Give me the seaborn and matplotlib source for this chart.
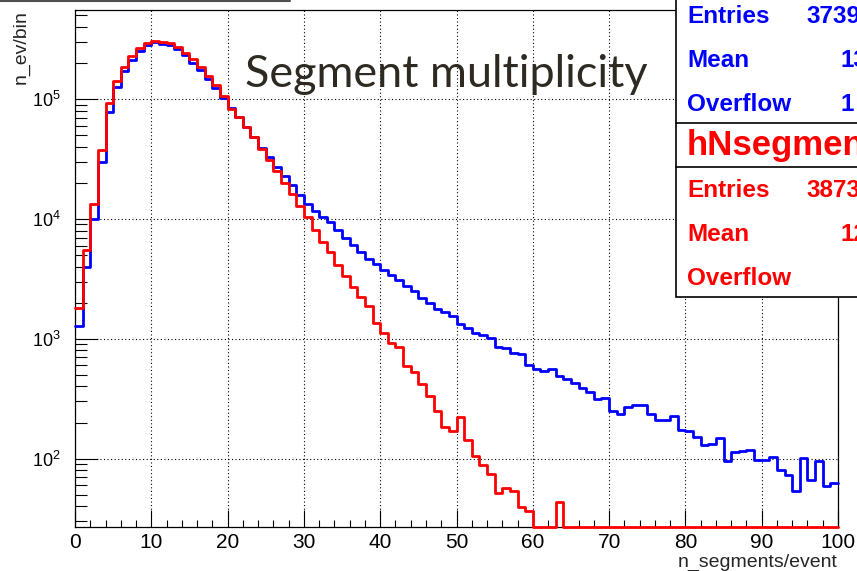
import numpy as np
import pandas as pd
import matplotlib
matplotlib.use("Agg")
import matplotlib.pyplot as plt
import seaborn as sns
from matplotlib.patches import Rectangle
from matplotlib.lines import Line2D
from matplotlib.ticker import MultipleLocator, LogLocator, NullFormatter

sns.set_theme(style="white")
plt.rcParams["font.family"] = ["Liberation Sans", "DejaVu Sans"]
plt.rcParams["mathtext.default"] = "regular"


# DATEN (Binbreite 1)
bin_lo, bin_hi = 0, 100

blue_counts = [
    1270, 3970, 10070, 29900, 78400, 125000, 171000, 214000, 253000, 282000,
    298000, 290000, 281000, 260000, 232000, 201000, 175000, 148000, 124000, 103000,
    84000, 70500, 58700, 48400, 39300, 32600, 26900, 22700, 19100, 15800,
    13400, 11700, 10450, 9440, 8050, 6990, 6030, 5300, 4670, 4240,
    3720, 3390, 3080, 2740, 2500, 2180, 2000, 1790, 1660, 1560,
    1320, 1230, 1120, 1075, 1010, 853, 845, 762, 741, 600,
    555, 540, 560, 485, 463, 425, 390, 360, 312, 322,
    252, 234, 268, 281, 281, 234, 211, 211, 229, 172,
    169, 153, 129, 133, 149, 95, 113, 115, 118, 97.7,
    97.7, 103, 80.5, 73.6, 54.2, 101, 66.5, 96.4, 59.6, 62.8]

red_counts = [
    1820, 5480, 13400, 37500, 92000, 142000, 186000, 229000, 268000, 295000,
    305000, 302000, 292000, 274000, 244000, 217000, 186000, 156000, 130000, 107000,
    82000, 71000, 58700, 48400, 38700, 30900, 25200, 20000, 16100, 12800,
    10300, 8050, 6430, 5350, 4100, 3320, 2700, 2230, 1870, 1345,
    1120, 915, 853, 590, 527, 417, 336, 248, 184, 169,
    222, 142, 106, 88.7, 74.6, 51.4, 56.6, 53.5, 39.3, 36.8,
    0, 0, 0, 43.8, 0, 0, 0, 0, 0, 0,
    0, 0, 0, 0, 0, 0, 0, 0, 0, 0,
    0, 0, 0, 0, 0, 0, 0, 0, 0, 0,
    0, 0, 0, 0, 0, 0, 0, 0, 0, 0]

blue_stats = [("Entries", "3739"), ("Mean", "13"), ("Overflow", "1")]
red_stats = [("Entries", "3873"), ("Mean", "12"), ("Overflow", "")]
red_name = "hNsegments"

title = "Segment multiplicity"
x_label = "n_segments/event"
y_label = "n_ev/bin"

y_lo, y_hi = 26.9, 5.54e5

W, H = 857, 571


def fx(px):
    return px / W


def fy(py):
    return 1 - py / H


# PLOT
fig = plt.figure(figsize=(W / 100, H / 100), dpi=100)
fig.patch.set_facecolor("white")
ax = fig.add_axes([fx(75), fy(527), fx(838) - fx(75), fy(10) - fy(527)])

centers = np.arange(bin_lo, bin_hi) + 0.5
for counts, color in [(blue_counts, "#0000ff"), (red_counts, "#ff0000")]:
    df = pd.DataFrame({"n_seg": centers, "n_ev": np.clip(counts, y_lo, None)})
    sns.histplot(data=df, x="n_seg", weights="n_ev", binwidth=1, binrange=(bin_lo, bin_hi),
                 element="step", fill=False, color=color, linewidth=2,
                 ax=ax, clip_on=False, zorder=3)

ax.set_yscale("log")
ax.set_xlim(0, 100)
ax.set_ylim(y_lo, y_hi)
ax.set_xlabel("")
ax.set_ylabel("")

# Achsen im ROOT-Stil
ax.xaxis.set_major_locator(MultipleLocator(10))
ax.xaxis.set_minor_locator(MultipleLocator(2))
ax.yaxis.set_major_locator(LogLocator(base=10, numticks=10))
ax.yaxis.set_minor_locator(LogLocator(base=10, subs=np.arange(2, 10), numticks=10))
ax.yaxis.set_minor_formatter(NullFormatter())

ax.tick_params(axis="x", which="major", direction="in", length=12, width=0.8,
               labelsize=15, pad=4, bottom=True, top=False, color="black", labelcolor="black")
ax.tick_params(axis="x", which="minor", direction="in", length=5, width=0.8,
               bottom=True, top=False, color="black")
ax.tick_params(axis="y", which="major", direction="in", length=16.5, width=0.8,
               labelsize=13, pad=10, left=True, right=False, color="black", labelcolor="black")
ax.tick_params(axis="y", which="minor", direction="in", length=8.5, width=0.8,
               left=True, right=False, color="black")

for sp in ax.spines.values():
    sp.set_color("black")
    sp.set_linewidth(0.9)

ax.grid(True, which="major", color="black", linestyle=(0, (1, 2.2)), linewidth=0.8)
ax.set_axisbelow(True)

# Achsentitel
fig.text(fx(21), fy(10), y_label, rotation=90, ha="center", va="top", fontsize=14)
fig.text(fx(838), fy(567), x_label, ha="right", va="baseline", fontsize=14)

# Titel (Folientext)
fig.text(fx(245), fy(87), title, family=["Lato", "DejaVu Sans"], fontsize=32.4,
         color="#2e2a22", ha="left", va="baseline")

# Statistik-Box
fig.patches.append(Rectangle((fx(676), fy(297)), fx(900) - fx(676), fy(-10) - fy(297),
                             transform=fig.transFigure, facecolor="white",
                             edgecolor="black", linewidth=1.2, zorder=5))
for py in [123, 167]:
    fig.lines.append(Line2D([fx(676), fx(900)], [fy(py), fy(py)], transform=fig.transFigure,
                            color="black", linewidth=1.2, zorder=6))

stat_size = 17.5
for i, (name, val) in enumerate(blue_stats):
    base = 23 + 44 * i
    fig.text(fx(687), fy(base), name, color="#0000ff", fontsize=stat_size, weight="bold",
             va="baseline", zorder=7)
    fig.text(fx(806 if len(val) > 2 else 840), fy(base), val, color="#0000ff",
             fontsize=stat_size, weight="bold", va="baseline", zorder=7)

fig.text(fx(687), fy(155), red_name, color="#ff0000", fontsize=25, weight="bold",
         va="baseline", zorder=7)

for i, (name, val) in enumerate(red_stats):
    base = 197 + 44 * i
    fig.text(fx(687), fy(base), name, color="#ff0000", fontsize=stat_size, weight="bold",
             va="baseline", zorder=7)
    if val:
        fig.text(fx(806 if len(val) > 2 else 840), fy(base), val, color="#ff0000",
                 fontsize=stat_size, weight="bold", va="baseline", zorder=7)

# Linie oben links
fig.lines.append(Line2D([0, fx(290)], [fy(1), fy(1)], transform=fig.transFigure,
                        color="#505050", linewidth=1.5))

fig.savefig("out.png", dpi=100)
